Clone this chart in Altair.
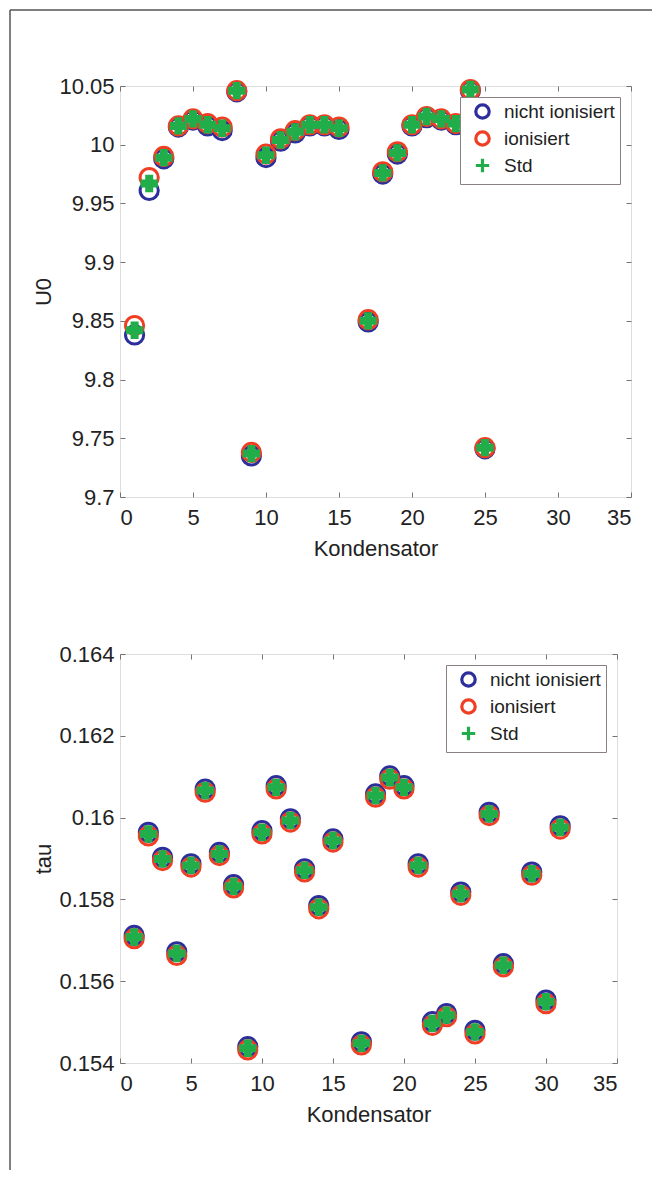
import altair as alt
import pandas as pd

# ---------------- data ----------------
series = ["nicht ionisiert", "ionisiert", "Std"]
colors = ["#2b2e9b", "#ef3e24", "#22ad4b"]
shapes = ["circle", "circle", "M-1,0L1,0M0,-1L0,1"]

x_ticks = [0, 5, 10, 15, 20, 25, 30, 35]

# top panel: U0
x_top = [1, 2, 3, 4, 5, 6, 7, 8, 9, 10, 11, 12, 13, 14, 15, 17, 18, 19, 20, 21, 22, 23, 24, 25]
u0_nicht = [9.838, 9.961, 9.988, 10.015, 10.021, 10.016, 10.012, 10.045, 9.735, 9.989, 10.003, 10.010,
            10.016, 10.016, 10.013, 9.849, 9.975, 9.992, 10.016, 10.023, 10.021, 10.017, 10.046, 9.741]
u0_ion = [9.846, 9.972, 9.990, 10.016, 10.022, 10.018, 10.015, 10.046, 9.738, 9.992, 10.005, 10.012,
          10.017, 10.017, 10.015, 9.851, 9.977, 9.994, 10.017, 10.024, 10.022, 10.018, 10.047, 9.742]
u0_std = [9.842, 9.967, 9.989, 10.016, 10.022, 10.017, 10.014, 10.046, 9.737, 9.991, 10.004, 10.011,
          10.017, 10.017, 10.014, 9.850, 9.976, 9.993, 10.017, 10.024, 10.022, 10.018, 10.047, 9.742]
u0_ticks = [9.7, 9.75, 9.8, 9.85, 9.9, 9.95, 10.0, 10.05]

# bottom panel: tau
x_bot = [1, 2, 3, 4, 5, 6, 7, 8, 9, 10, 11, 12, 13, 14, 15, 17, 18, 19, 20, 21, 22, 23, 24, 25, 26, 27, 29, 30, 31]
tau_nicht = [0.15712, 0.15964, 0.15903, 0.15672, 0.15887, 0.16070, 0.15915, 0.15836, 0.15440, 0.15968,
             0.16078, 0.15997, 0.15875, 0.15785, 0.15948, 0.15452, 0.16058, 0.16102, 0.16078, 0.15887,
             0.15501, 0.15521, 0.15818, 0.15480, 0.16013, 0.15643, 0.15867, 0.15554, 0.15980]
tau_ion = [0.15704, 0.15955, 0.15895, 0.15663, 0.15879, 0.16062, 0.15907, 0.15828, 0.15432, 0.15960,
           0.16070, 0.15989, 0.15867, 0.15777, 0.15940, 0.15444, 0.16050, 0.16094, 0.16070, 0.15879,
           0.15492, 0.15513, 0.15810, 0.15471, 0.16005, 0.15635, 0.15859, 0.15545, 0.15972]
tau_std = [0.15708, 0.15960, 0.15899, 0.15668, 0.15883, 0.16066, 0.15911, 0.15832, 0.15436, 0.15964,
           0.16074, 0.15993, 0.15871, 0.15781, 0.15944, 0.15448, 0.16054, 0.16098, 0.16074, 0.15883,
           0.15497, 0.15517, 0.15814, 0.15476, 0.16009, 0.15639, 0.15863, 0.15550, 0.15976]
tau_ticks = [0.154, 0.156, 0.158, 0.160, 0.162, 0.164]

FONT = "Liberation Sans"
TXT = "#222222"
FRAME = "#7a7272"


def long_df(x, a, b, c):
    rows = []
    for name, vals in zip(series, (a, b, c)):
        for xi, v in zip(x, vals):
            rows.append({"k": xi, "v": v, "s": name})
    return pd.DataFrame(rows)


def panel(df, ytitle, ydomain, yvalues, w, h, border=False):
    xsc = alt.Scale(domain=[0, 35], nice=False, zero=False)
    ysc = alt.Scale(domain=ydomain, nice=False, zero=False)
    legend = alt.Legend(
        title=None, orient="top-right", offset=11,
        fillColor="white", strokeColor="#8a8080", padding=5,
        labelFont=FONT, labelFontSize=19, labelColor=TXT,
        symbolOffset=8, labelOffset=12,
        symbolSize=180, symbolStrokeWidth=3.2, rowPadding=0, labelLimit=300,
    )
    color = alt.Color("s:N", scale=alt.Scale(domain=series, range=colors), legend=legend)
    shape = alt.Shape("s:N", scale=alt.Scale(domain=series, range=shapes), legend=legend)
    common = dict(domain=False, ticks=True, tickSize=5, offset=-5, tickColor=FRAME,
                  grid=False, labelFont=FONT, labelFontSize=22, labelColor=TXT,
                  titleFont=FONT, titleFontSize=22, titleFontWeight="normal", titleColor=TXT)
    ax_b = alt.Axis(orient="bottom", values=x_ticks, title="Kondensator",
                    labelPadding=10, titlePadding=10, **common)
    ax_l = alt.Axis(orient="left", values=yvalues, format="~g", title=ytitle,
                    labelPadding=6, titlePadding=3, **common)
    ax_t = alt.Axis(orient="top", values=x_ticks, labels=False, title=None, **common)
    ax_r = alt.Axis(orient="right", values=yvalues, labels=False, title=None, **common)

    base = alt.Chart(df)
    l1 = base.transform_filter(alt.datum.s == series[0]).mark_point(
        filled=False, strokeWidth=3, size=330, opacity=1
    ).encode(x=alt.X("k:Q", scale=xsc, axis=ax_b), y=alt.Y("v:Q", scale=ysc, axis=ax_l),
             color=color, shape=shape)
    l2 = base.transform_filter(alt.datum.s == series[1]).mark_point(
        filled=False, strokeWidth=3, size=330, opacity=1
    ).encode(x=alt.X("k:Q", scale=xsc, axis=ax_t), y=alt.Y("v:Q", scale=ysc, axis=ax_r),
             color=color, shape=shape)
    l3 = base.transform_filter(alt.datum.s == series[2]).mark_point(
        filled=False, strokeWidth=8, size=300, opacity=1
    ).encode(x=alt.X("k:Q", scale=xsc, axis=None), y=alt.Y("v:Q", scale=ysc, axis=None),
             color=color, shape=shape)
    layers = [l1, l2, l3]
    if border:
        # page frame of the scanned figure (decoration, not data)
        fr = alt.Chart(pd.DataFrame({"f": [0]}))
        layers.append(fr.mark_rule(color="#555555", strokeWidth=1.5).encode(
            x=alt.value(-110), y=alt.value(-76), y2=alt.value(1084)))
        layers.append(fr.mark_rule(color="#555555", strokeWidth=1.5).encode(
            x=alt.value(-110), x2=alt.value(532), y=alt.value(-76)))
    return alt.layer(*layers).resolve_axis(x="independent", y="independent").properties(
        width=w, height=h)


top = panel(long_df(x_top, u0_nicht, u0_ion, u0_std), "U0", [9.7, 10.05], u0_ticks, 511, 411, border=True)
bot = panel(long_df(x_bot, tau_nicht, tau_ion, tau_std), "tau", [0.154, 0.164], tau_ticks, 497, 409)

chart = alt.vconcat(top, bot, spacing=157, bounds="flush").resolve_scale(
    color="independent", shape="independent"
).resolve_legend(color="independent", shape="independent").properties(
    padding={"left": 0, "top": 0, "right": 0, "bottom": 0}
).configure_view(stroke=FRAME, strokeWidth=1).configure(background="white")

chart.save("out.html", embed_options={"renderer": "svg", "actions": False})
